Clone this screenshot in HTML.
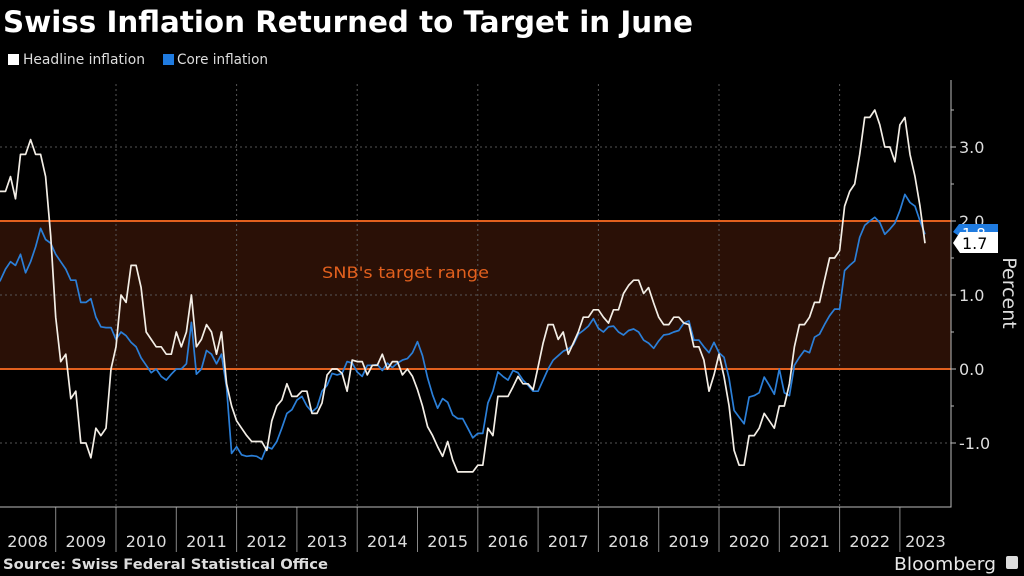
<!DOCTYPE html>
<html><head><meta charset="utf-8"><style>
html,body{margin:0;padding:0;background:#000;}
svg{display:block;font-family:"DejaVu Sans","Liberation Sans",sans-serif;}
</style></head><body>
<svg id="chart" width="1024" height="576" viewBox="0 0 1024 576" xmlns="http://www.w3.org/2000/svg">
<rect x="0" y="0" width="1024" height="576" fill="#000"/>
<text x="3" y="32" font-size="29" font-weight="bold" fill="#fff" textLength="690" lengthAdjust="spacingAndGlyphs">Swiss Inflation Returned to Target in June</text>
<g>
<rect x="8" y="54" width="11" height="11" fill="#fff"/>
<text x="23" y="64" font-size="14" fill="#ddd" textLength="122" lengthAdjust="spacingAndGlyphs">Headline inflation</text>
<rect x="163" y="54" width="11" height="11" fill="#1f7be0"/>
<text x="177" y="64" font-size="14" fill="#ddd" textLength="91" lengthAdjust="spacingAndGlyphs">Core inflation</text>
</g>
<g id="plot"></g>
<text x="3" y="569" font-size="14" font-weight="bold" fill="#ddd" textLength="325" lengthAdjust="spacingAndGlyphs">Source: Swiss Federal Statistical Office</text>
<text x="894" y="570" font-size="18" fill="#e8e8e8" textLength="102" lengthAdjust="spacingAndGlyphs">Bloomberg</text>
<rect x="1006" y="556" width="12" height="13" rx="2" fill="#ddd"/>
</svg>
<script>
const headline = [2.4,2.4,2.4,2.6,2.3,2.9,2.9,3.1,2.9,2.9,2.6,1.8,0.7,
0.1,0.2,-0.4,-0.3,-1.0,-1.0,-1.2,-0.8,-0.9,-0.8,0.0,0.3,
1.0,0.9,1.4,1.4,1.1,0.5,0.4,0.3,0.3,0.2,0.2,0.5,
0.3,0.5,1.0,0.3,0.4,0.6,0.5,0.2,0.5,-0.2,-0.5,-0.7,-0.8,-0.9,
-0.98,-0.98,-0.98,-1.1,-0.7,-0.5,-0.42,-0.2,-0.37,-0.37,-0.3,-0.3,-0.6,-0.6,-0.46,-0.08,0,0,-0.06,-0.3,0.12,0.1,0.1,-0.08,0.05,0.05,0.2,0,0.1,0.1,-0.08,0,-0.1,-0.28,-0.5,-0.78,-0.9,-1.05,-1.18,-0.98,-1.23,-1.39,-1.39,-1.39,-1.39,-1.3,-1.3,-0.8,-0.9,-0.37,
-0.37,-0.37,-0.24,-0.1,-0.2,-0.2,-0.28,0.03,0.35,0.6,0.6,0.4,0.5,0.2,0.35,0.5,0.7,0.7,0.8,0.8,0.7,0.62,0.8,0.8,1.02,1.13,1.2,1.2,1.02,1.1,0.89,0.7,0.6,0.6,0.7,0.7,0.62,0.6,0.3,0.3,
0.12,-0.3,-0.08,0.2,-0.1,-0.5,-1.1,-1.3,-1.3,
-0.9,-0.9,-0.8,-0.6,-0.7,-0.8,
-0.5,-0.5,-0.2,0.3,0.6,0.6,0.7,0.9,0.9,1.2,1.5,1.5,
1.6,2.2,2.4,2.5,2.9,3.4,3.4,3.5,3.3,3.0,3.0,2.8,
3.3,3.4,2.9,2.6,2.2,1.7];
const core = [1.1,1.2,1.35,1.45,1.4,1.55,1.3,1.45,1.65,1.9,1.75,1.7,1.55,
1.45,1.35,1.2,1.2,0.9,0.9,0.95,0.7,0.57,0.56,0.56,0.4,
0.5,0.45,0.36,0.3,0.15,0.05,-0.05,0.0,-0.1,-0.15,-0.07,0.0,
0.0,0.07,0.63,-0.07,0.0,0.25,0.2,0.07,0.2,-0.25,
-1.14,-1.05,-1.16,-1.18,-1.17,-1.18,-1.22,-1.05,-1.08,-0.98,-0.8,-0.6,-0.55,-0.42,-0.37,-0.5,-0.58,-0.52,-0.3,-0.22,-0.06,-0.08,-0.06,0.1,0.08,-0.04,-0.1,0.05,0.05,0.06,-0.02,0.08,0.02,0.08,0.12,0.14,0.22,0.37,0.18,-0.12,-0.35,-0.53,-0.4,-0.45,-0.62,-0.67,-0.67,-0.8,-0.93,-0.87,-0.87,-0.46,-0.3,
-0.04,-0.1,-0.15,-0.02,-0.05,-0.15,-0.22,-0.3,-0.3,-0.15,0.0,0.12,0.18,0.24,0.27,0.33,0.47,0.52,0.58,0.68,0.55,0.5,0.57,0.58,0.5,0.46,0.52,0.54,0.5,0.39,0.35,0.28,0.38,0.46,0.47,0.5,0.52,0.62,0.65,0.39,0.39,0.3,0.22,
0.36,0.22,0.16,-0.13,-0.56,-0.65,-0.74,-0.38,-0.36,-0.32,-0.11,-0.22,-0.34,0,-0.32,-0.36,0.05,0.16,0.25,0.22,0.43,0.47,0.6,0.72,0.81,0.81,1.33,1.4,1.46,1.78,1.94,2.0,2.05,1.98,1.82,1.89,1.97,2.14,2.36,2.25,2.2,2.0,1.82];
const years = ["2008","2009","2010","2011","2012","2013","2014","2015","2016","2017","2018","2019","2020","2021","2022","2023"];
const yTicks = [3.0,2.0,1.0,0.0,-1.0];
const yTickLabels = ["3.0","2.0","1.0","0.0","-1.0"];
const targetRange = [0.0,2.0];

const NS="http://www.w3.org/2000/svg";
const X0=-4.6, STEP=5.025, AXISX=951, PBOT=507, PTOP=80;
function xm(i){return X0+STEP*i;}
function yv(v){return 369-74*v;}
const g=document.getElementById('plot');
function mk(tag,attrs,parent){const e=document.createElementNS(NS,tag);for(const k in attrs)e.setAttribute(k,attrs[k]);(parent||g).appendChild(e);return e;}

let band=mk('rect',{x:0,y:yv(targetRange[1]),width:AXISX,height:yv(targetRange[0])-yv(targetRange[1]),fill:'#2a1006'});


yTicks.forEach(v=>{
  let l=mk('line',{x1:0,x2:AXISX,y1:yv(v),y2:yv(v),stroke:'#555','stroke-width':1,'stroke-dasharray':'2,3'});
  
  
});
years.forEach((y,k)=>{
  const x=xm(12*k);
  if(k>0){
    let s=mk('line',{x1:x,x2:x,y1:PBOT,y2:552,stroke:'#888','stroke-width':1});
    
    
  }
  if(k%2===0 && k>0){
    let d=mk('line',{x1:x,x2:x,y1:PTOP+4,y2:PBOT,stroke:'#555','stroke-width':1,'stroke-dasharray':'2,3'});
    
    
  }
  const nx=Math.min(xm(12*(k+1)),AXISX);
  let t=mk('text',{x:(x+nx)/2+(k===0?2:0),y:547,'font-size':16,fill:'#ddd','text-anchor':'middle'});
  t.textContent=y;
  
  
});
targetRange.forEach(v=>{
  let l=mk('line',{x1:0,x2:AXISX,y1:yv(v),y2:yv(v),stroke:'#e2601e','stroke-width':2});
  
  
});
let tl=mk('text',{x:322,y:278,'font-size':16,fill:'#e2601e',textLength:167,lengthAdjust:'spacingAndGlyphs'});
tl.textContent="SNB's target range";


function series(arr,color,name){
  const d=arr.map((v,i)=>(i?'L':'M')+xm(i).toFixed(1)+','+yv(v).toFixed(1)).join('');
  let p=mk('path',{d:d,fill:'none',stroke:color,'stroke-width':1.7,'stroke-linejoin':'round'});
  
  
}
series(core,'#2b7fd8','core-inflation-line');
series(headline,'#f3eee6','headline-inflation-line');
let ax=mk('path',{d:`M0,${PBOT}H${AXISX}V${PTOP}`,fill:'none',stroke:'#bbb','stroke-width':1});


yTicks.forEach((v,i)=>{
  let tk=mk('line',{x1:AXISX,x2:AXISX+5,y1:yv(v),y2:yv(v),stroke:'#bbb'});
  
  
  let mt=mk('line',{x1:AXISX,x2:AXISX+3,y1:yv(v+0.5),y2:yv(v+0.5),stroke:'#bbb'});
  
  
  let t=mk('text',{x:959,y:yv(v)+6,'font-size':16,fill:'#ddd'});
  t.textContent=yTickLabels[i];
  
  
});
let yt=mk('text',{x:0,y:0,'font-size':19,fill:'#ddd','text-anchor':'middle',transform:'translate(1003,293) rotate(90)'});
yt.textContent='Percent';


const lastCore=core[core.length-1], lastHead=headline[headline.length-1];
let bt=mk('path',{d:'M953,232 L959,224 H998 V236 H959 Z',fill:'#1f7be0'});


let btt=mk('text',{x:962,y:239,'font-size':15,fill:'#fff'});
btt.textContent=lastCore.toFixed(1);


let wt=mk('path',{d:'M953,243 L960,232 H998 V253 H960 Z',fill:'#fff'});


let wtt=mk('text',{x:962,y:249,'font-size':16,fill:'#000'});
wtt.textContent=lastHead.toFixed(1);


</script>
</body></html>
